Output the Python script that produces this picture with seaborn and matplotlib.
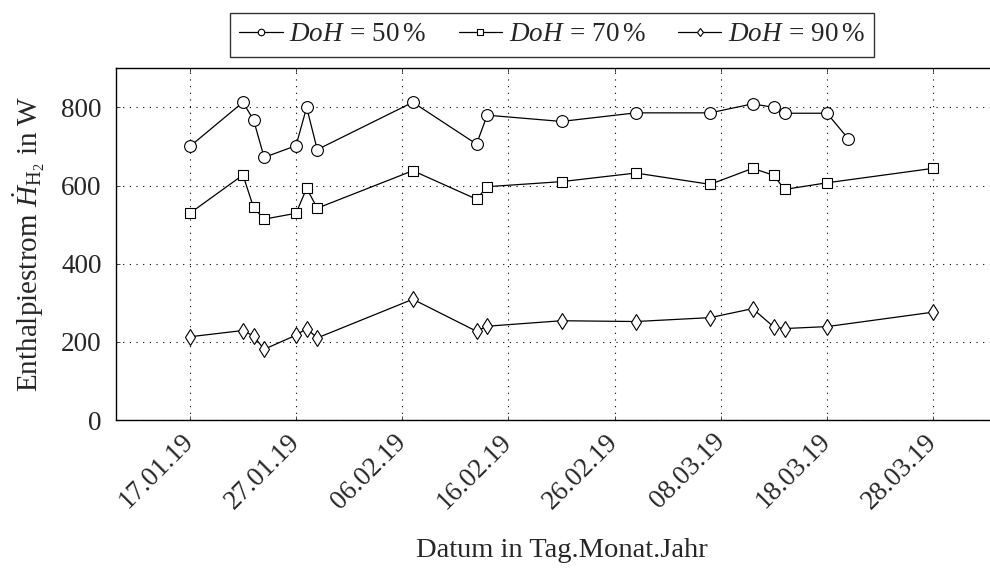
import pandas as pd
import matplotlib
matplotlib.use("Agg")
import matplotlib.pyplot as plt
import matplotlib.dates as mdates
import seaborn as sns


dates_50 = ["17.01.19", "22.01.19", "23.01.19", "24.01.19", "27.01.19", "28.01.19",
            "29.01.19", "07.02.19", "13.02.19", "14.02.19", "21.02.19", "28.02.19",
            "07.03.19", "11.03.19", "13.03.19", "14.03.19", "18.03.19", "20.03.19"]
values_50 = [700, 813, 768, 672, 702, 800, 692, 813, 706, 780, 764, 786,
             786, 809, 800, 785, 785, 720]

dates_70 = ["17.01.19", "22.01.19", "23.01.19", "24.01.19", "27.01.19", "28.01.19",
            "29.01.19", "07.02.19", "13.02.19", "14.02.19", "21.02.19", "28.02.19",
            "07.03.19", "11.03.19", "13.03.19", "14.03.19", "18.03.19", "28.03.19"]
values_70 = [529, 627, 544, 514, 529, 593, 542, 638, 565, 597, 610, 632,
             603, 644, 626, 590, 607, 644]

dates_90 = dates_70
values_90 = [213, 229, 215, 181, 217, 234, 210, 309, 227, 240, 254, 252,
             262, 285, 238, 234, 239, 276]

series_labels = [r"$DoH\,=\,50\,\%$", r"$DoH\,=\,70\,\%$", r"$DoH\,=\,90\,\%$"]
tick_dates = ["17.01.19", "27.01.19", "06.02.19", "16.02.19",
              "26.02.19", "08.03.19", "18.03.19", "28.03.19"]
y_ticks = [0, 200, 400, 600, 800]


def to_dates(values):
    return pd.to_datetime(values, format="%d.%m.%y")


def main():
    sns.set_style("ticks")
    plt.rcParams["font.family"] = ["Liberation Serif", "DejaVu Serif"]
    plt.rcParams["mathtext.fontset"] = "custom"
    plt.rcParams["mathtext.rm"] = "Liberation Serif"
    plt.rcParams["mathtext.it"] = "Liberation Serif:italic"
    plt.rcParams["mathtext.bf"] = "Liberation Serif:bold"

    fig = plt.figure(figsize=(9.9, 5.7), dpi=100)
    ax = fig.add_axes([115.5 / 990, 1 - 420 / 570, 892 / 990, 351.7 / 570])

    series = [
        (dates_50, values_50, "o", 8.5, series_labels[0]),
        (dates_70, values_70, "s", 7.5, series_labels[1]),
        (dates_90, values_90, "d", 8.0, series_labels[2]),
    ]
    for dates, values, marker, size, label in series:
        df = pd.DataFrame({"Datum": to_dates(dates), "Wert": values})
        sns.lineplot(data=df, x="Datum", y="Wert", ax=ax, color="black",
                     linewidth=0.9, marker=marker, markersize=size,
                     markerfacecolor="white", markeredgecolor="black",
                     markeredgewidth=0.8, label=label)

    ax.set_xlim(pd.Timestamp("2019-01-10"), pd.Timestamp("2019-04-04"))
    ax.set_ylim(0, 900)
    ax.set_xticks(to_dates(tick_dates))
    ax.xaxis.set_major_formatter(mdates.DateFormatter("%d.%m.%y"))
    ax.set_yticks(y_ticks)

    for lab in ax.get_xticklabels():
        lab.set_rotation(45)
        lab.set_ha("right")
        lab.set_va("center")
        lab.set_rotation_mode("anchor")

    ax.tick_params(direction="in", length=3, width=0.6, top=True, right=True,
                   labelsize=19.5, pad=10)
    ax.tick_params(axis="x", pad=13)
    ax.grid(True, color="black", linestyle=(0, (1, 5)), linewidth=0.8)
    for spine in ax.spines.values():
        spine.set_linewidth(1.0)
        spine.set_color("black")

    ax.set_xlabel("Datum in Tag.Monat.Jahr", fontsize=20.5, labelpad=17)
    ax.set_ylabel(r"Enthalpiestrom $\dot{H}_{\mathrm{H}_2}$ in W", fontsize=21, labelpad=10)

    leg = ax.legend(loc="center", bbox_to_anchor=(552 / 990, 1 - 34.7 / 570),
                    bbox_transform=fig.transFigure, ncol=3, fontsize=19.5,
                    frameon=True, fancybox=False, edgecolor="black",
                    handlelength=1.6, handletextpad=0.25, columnspacing=1.2,
                    markerscale=0.55, borderpad=0.35)
    leg.get_frame().set_linewidth(1.0)

    fig.savefig("out.png", dpi=100)
    plt.close(fig)


if __name__ == "__main__":
    main()
